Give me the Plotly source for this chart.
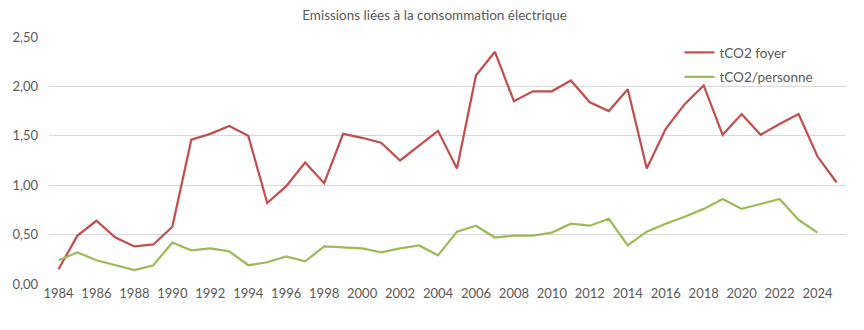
import plotly.graph_objects as go

years = list(range(1984, 2026))
foyer = [0.15, 0.49, 0.64, 0.47, 0.38, 0.40, 0.58, 1.46, 1.52, 1.60,
         1.50, 0.82, 0.99, 1.23, 1.02, 1.52, 1.48, 1.43, 1.25, 1.40,
         1.55, 1.17, 2.11, 2.35, 1.85, 1.95, 1.95, 2.06, 1.84, 1.75,
         1.97, 1.17, 1.57, 1.82, 2.01, 1.51, 1.72, 1.51, 1.62, 1.72,
         1.29, 1.03]
personne = [0.24, 0.32, 0.24, 0.19, 0.14, 0.19, 0.42, 0.34, 0.36, 0.33,
            0.19, 0.22, 0.28, 0.23, 0.38, 0.37, 0.36, 0.32, 0.36, 0.39,
            0.29, 0.53, 0.59, 0.47, 0.49, 0.49, 0.52, 0.61, 0.59, 0.66,
            0.39, 0.53, 0.61, 0.68, 0.76, 0.86, 0.76, 0.81, 0.86, 0.65,
            0.52]
tick_years = list(range(1984, 2025, 2))
y_ticks = [0, 0.5, 1.0, 1.5, 2.0, 2.5]

font = "Lato, 'Open Sans', sans-serif"

fig = go.Figure()
fig.add_trace(go.Scatter(x=years, y=foyer, mode="lines", name="tCO2 foyer",
                         legendgroup="a",
                         line=dict(color="#C0504D", width=2.25)))
fig.add_trace(go.Scatter(x=years[:len(personne)], y=personne, mode="lines",
                         name="tCO2/personne", legendgroup="b",
                         line=dict(color="#9BBB59", width=2.25)))

fig.update_layout(
    width=864, height=330,
    margin=dict(l=49, r=18, t=37, b=46),
    paper_bgcolor="white", plot_bgcolor="white",
    separators=", ",
    font=dict(family=font, size=12, color="#595959"),
    title=dict(text="Emissions liées à la consommation électrique",
               x=0.503, xanchor="center", y=0.955, yanchor="middle",
               font=dict(family=font, size=13.5, color="#595959")),
    showlegend=True,
    legend=dict(x=0.791, y=1.0, xanchor="left", yanchor="top",
                traceorder="grouped",
                bgcolor="rgba(0,0,0,0)", font=dict(family=font, size=13.5, color="#595959"),
                tracegroupgap=4, itemwidth=30),
    xaxis=dict(range=[1983.5, 2025.5], tickvals=tick_years,
               ticktext=[str(y) for y in tick_years],
               showgrid=False, zeroline=False, showline=False, ticks="",
               tickfont=dict(size=13)),
    yaxis=dict(range=[0, 2.5], tickvals=y_ticks, tickformat=".2f",
               showgrid=True, gridcolor="#D9D9D9", gridwidth=1,
               zeroline=False, showline=False, ticks="",
               ticklabelstandoff=10,
               tickfont=dict(size=13)),
)

fig.write_html("out.html")
